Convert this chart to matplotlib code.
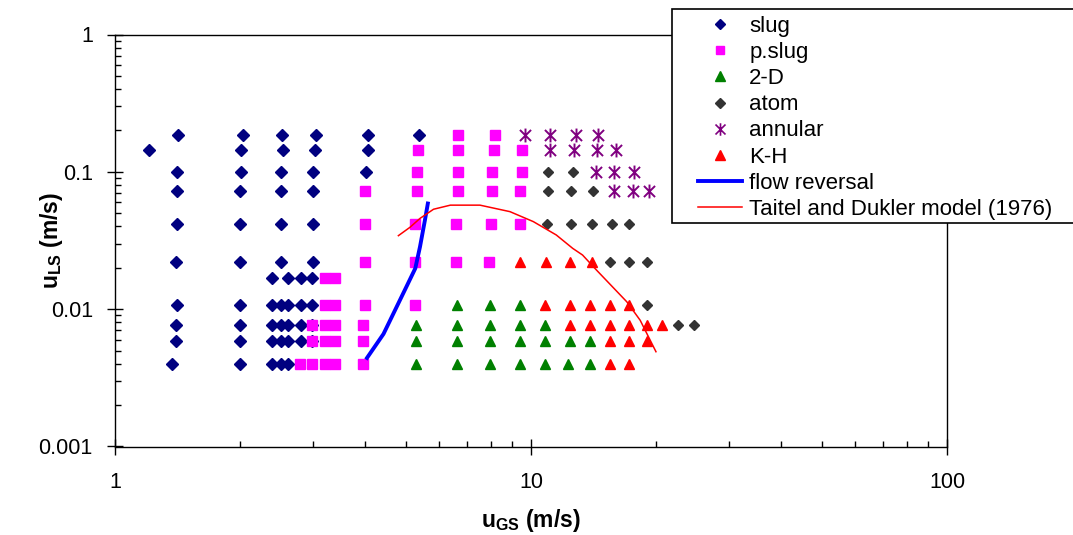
import matplotlib
matplotlib.use('Agg')
import matplotlib.pyplot as plt
from matplotlib.lines import Line2D
from matplotlib.patches import Rectangle
from matplotlib.path import Path
from matplotlib.ticker import LogLocator, NullFormatter, FuncFormatter

plt.rcParams['font.family'] = ['Liberation Sans', 'DejaVu Sans']
plt.rcParams['mathtext.fontset'] = 'custom'
plt.rcParams['mathtext.rm'] = 'Liberation Sans'
plt.rcParams['mathtext.bf'] = 'Liberation Sans:bold'
plt.rcParams['mathtext.it'] = 'Liberation Sans:italic'

# ── Data: (u_GS, u_LS) in m/s ─────────────────────
slug = [(1.42, .186), (2.03, .186), (2.52, .186), (3.05, .186), (4.05, .186), (5.39, .186),
        (1.21, .145), (2.01, .145), (2.53, .145), (3.03, .145), (4.05, .145),
        (1.41, .099), (2.01, .099), (2.50, .099), (2.99, .099), (4.01, .099),
        (1.41, .073), (2.00, .073), (2.50, .073), (2.99, .073),
        (1.41, .042), (2.00, .042), (2.50, .042), (2.99, .042),
        (1.40, .022), (2.00, .022), (2.50, .022), (2.99, .022),
        (2.39, .017), (2.60, .017), (2.80, .017), (2.98, .017),
        (1.41, .0107), (2.00, .0107), (2.39, .0107), (2.51, .0107), (2.60, .0107), (2.80, .0107), (2.98, .0107),
        (1.40, .0077), (2.00, .0077), (2.39, .0077), (2.51, .0077), (2.60, .0077), (2.80, .0077), (2.98, .0077),
        (1.40, .0059), (2.00, .0059), (2.39, .0059), (2.51, .0059), (2.60, .0059), (2.80, .0059), (2.98, .0059),
        (1.37, .0040), (2.00, .0040), (2.39, .0040), (2.51, .0040), (2.60, .0040)]

pslug = [(6.66, .186), (8.21, .186),
         (5.35, .145), (6.66, .145), (8.13, .145), (9.50, .145),
         (5.31, .099), (6.66, .099), (8.06, .099), (9.50, .099),
         (3.99, .073), (5.31, .073), (6.66, .073), (8.06, .073), (9.42, .073),
         (4.00, .042), (5.27, .042), (6.60, .042), (8.00, .042), (9.42, .042),
         (4.00, .022), (5.27, .022), (6.60, .022), (7.92, .022),
         (3.19, .017), (3.38, .017),
         (3.19, .0107), (3.38, .0107), (4.00, .0107), (5.27, .0107),
         (2.97, .0077), (3.19, .0077), (3.38, .0077), (3.95, .0077),
         (2.97, .0059), (3.19, .0059), (3.38, .0059), (3.95, .0059),
         (2.78, .0040), (2.97, .0040), (3.19, .0040), (3.38, .0040), (3.95, .0040)]

two_d = [(6.63, .0107), (7.97, .0107), (9.40, .0107),
         (5.29, .0077), (6.63, .0077), (7.97, .0077), (9.40, .0077), (10.8, .0077),
         (5.29, .0059), (6.63, .0059), (7.97, .0059), (9.40, .0059), (10.8, .0059), (12.4, .0059), (13.9, .0059),
         (5.29, .0040), (6.63, .0040), (7.97, .0040), (9.40, .0040), (10.8, .0040), (12.3, .0040), (13.9, .0040)]

atom = [(11.0, .099), (12.6, .099),
        (11.0, .073), (12.5, .073), (14.1, .073),
        (10.9, .042), (12.5, .042), (14.0, .042), (15.7, .042), (17.2, .042),
        (15.5, .022), (17.2, .022), (19.0, .022),
        (19.0, .0107),
        (22.6, .0077), (24.6, .0077)]

annular = [(9.7, .186), (11.1, .186), (12.8, .186), (14.5, .186),
           (11.1, .145), (12.7, .145), (14.4, .145), (16.0, .145),
           (14.3, .099), (15.85, .099), (17.7, .099),
           (15.85, .073), (17.6, .073), (19.2, .073)]

kh = [(9.40, .022), (10.85, .022), (12.4, .022), (14.0, .022),
      (10.8, .0107), (12.4, .0107), (13.9, .0107), (15.5, .0107), (17.2, .0107),
      (12.4, .0077), (13.9, .0077), (15.5, .0077), (17.2, .0077), (19.0, .0077), (20.7, .0077),
      (15.5, .0059), (17.2, .0059), (19.0, .0059),
      (15.5, .0040), (17.2, .0040)]

flow_x = [4.01, 4.42, 4.67, 5.02, 5.27, 5.41, 5.56, 5.66]
flow_y = [0.0043, 0.0066, 0.0093, 0.0146, 0.0198, 0.0285, 0.0446, 0.0607]

td_x = [4.80, 5.12, 5.41, 5.83, 6.40, 7.54, 8.90, 10.13, 11.5, 12.6, 13.3, 14.36, 17.0, 18.3, 19.97]
td_y = [0.0343, 0.0395, 0.0458, 0.0534, 0.0572, 0.0572, 0.0513, 0.0434, 0.0347, 0.0277, 0.0248,
        0.0193, 0.0113, 0.0083, 0.0049]

labels = ['slug', 'p.slug', '2-D', 'atom', 'annular', 'K-H',
          'flow reversal', 'Taitel and Dukler model (1976)']

# ── Colours ───────────────────────────────────────
NAVY, MAGENTA, GREEN = '#000080', '#FF00FF', '#008000'
DARK, PURPLE, RED, BLUE = '#333333', '#800080', '#FF0000', '#0000FF'

# asterisk marker: vertical bar + X
star = Path([(0, -1), (0, 1), (-0.8, -0.8), (0.8, 0.8), (-0.8, 0.8), (0.8, -0.8)],
            [Path.MOVETO, Path.LINETO, Path.MOVETO, Path.LINETO, Path.MOVETO, Path.LINETO])

W, H = 1073, 535
fig = plt.figure(figsize=(W / 100, H / 100), dpi=100)
ax = fig.add_axes([115 / W, 1 - 446.5 / H, 832 / W, 412 / H])

def pts(p):
    return [a for a, b in p], [b for a, b in p]

series = [(slug, dict(marker='D', ms=5.7, color=NAVY)),
          (pslug, dict(marker='s', ms=6.8, color=MAGENTA)),
          (two_d, dict(marker='^', ms=7.6, color=GREEN)),
          (atom, dict(marker='D', ms=5.2, color=DARK)),
          (annular, dict(marker=star, ms=10, color=PURPLE, mfc='none', mew=1.4)),
          (kh, dict(marker='^', ms=7.6, color=RED))]
for p, kw in series:
    x, y = pts(p)
    ax.plot(x, y, linestyle='None', mec=kw['color'], **kw)

ax.plot(flow_x, flow_y, color=BLUE, lw=2.8, solid_capstyle='butt')
ax.plot(td_x, td_y, color=RED, lw=1.1)

# ── Axes ──────────────────────────────────────────
ax.set_xscale('log')
ax.set_yscale('log')
ax.set_xlim(1, 100)
ax.set_ylim(0.001, 1)
fmt = FuncFormatter(lambda v, _: f'{v:g}')
for a in (ax.xaxis, ax.yaxis):
    a.set_major_locator(LogLocator(base=10))
    a.set_minor_locator(LogLocator(base=10, subs=range(2, 10)))
    a.set_minor_formatter(NullFormatter())
    a.set_major_formatter(fmt)
ax.tick_params(which='major', direction='inout', length=11, width=1.0,
               labelsize=15.5, colors='black')
ax.tick_params(axis='x', which='major', pad=13)
ax.tick_params(axis='y', which='major', pad=10.5)
ax.tick_params(which='minor', direction='in', length=4, width=1.0)
for s in ax.spines.values():
    s.set_linewidth(1.0)
    s.set_color('black')

ax.set_xlabel(r'$\mathbf{u_{GS}\ (m/s)}$', fontsize=16.5)
ax.set_ylabel(r'$\mathbf{u_{LS}\ (m/s)}$', fontsize=16.5)
ax.xaxis.set_label_coords(0.5, -0.147)
ax.yaxis.set_label_coords(-0.060, 0.5)

# ── Legend (box runs past right edge) ─────────────
box = Rectangle((672 / W, 1 - 223 / H), (1085 - 672) / W, (223 - 9) / H,
                transform=fig.transFigure, facecolor='white', edgecolor='black',
                lw=1.2, zorder=4)
fig.add_artist(box)

handles = [Line2D([], [], ls='None', marker='D', ms=4.8, color=NAVY),
           Line2D([], [], ls='None', marker='s', ms=5.8, color=MAGENTA),
           Line2D([], [], ls='None', marker='^', ms=7, color=GREEN),
           Line2D([], [], ls='None', marker='D', ms=4.8, color=DARK),
           Line2D([], [], ls='None', marker=star, ms=9, color=PURPLE, mfc='none', mew=1.2),
           Line2D([], [], ls='None', marker='^', ms=7, color=RED),
           Line2D([], [], color=BLUE, lw=2.8),
           Line2D([], [], color=RED, lw=1.1)]
leg = fig.legend(handles, labels, loc='upper left',
                 bbox_to_anchor=(698 / W, 1 - 16 / H), bbox_transform=fig.transFigure,
                 frameon=False, fontsize=16, handlelength=2.0, handletextpad=0.3,
                 labelspacing=0.23, borderpad=0, borderaxespad=0)
leg.set_zorder(5)

fig.savefig('out.png', dpi=100, facecolor='white')
